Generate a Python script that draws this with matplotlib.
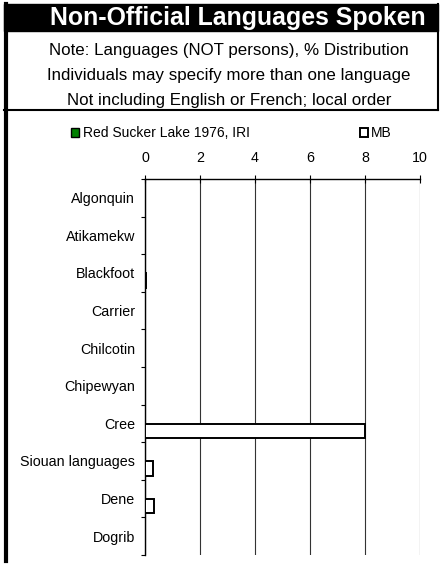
import matplotlib
matplotlib.use('Agg')
import matplotlib.pyplot as plt
from matplotlib.patches import Rectangle, Patch
from matplotlib.lines import Line2D
import numpy as np

plt.rcParams['font.family'] = ['Liberation Sans', 'DejaVu Sans']

languages = ['Algonquin', 'Atikamekw', 'Blackfoot', 'Carrier', 'Chilcotin',
             'Chipewyan', 'Cree', 'Siouan languages', 'Dene', 'Dogrib']
red_sucker = [0, 0, 0, 0, 0, 0, 0, 0, 0, 0]
mb = [0, 0, 0.05, 0, 0, 0, 8.0, 0.28, 0.33, 0]
series_names = ['Red Sucker Lake 1976, IRI', 'MB']
x_ticks = [0, 2, 4, 6, 8, 10]

W, H = 442, 565
fig = plt.figure(figsize=(W / 100, H / 100), dpi=100)

def fx(px):
    return px / W

def fy(px):
    return 1 - px / H

# frame: title bar, note box, left border
fig.patches.append(Rectangle((fx(4), fy(31)), fx(434), fy(4) - fy(31),
                             transform=fig.transFigure, color='black', zorder=0))
fig.lines.append(Line2D([fx(5.5), fx(5.5)], [fy(4), fy(561)], transform=fig.transFigure,
                        color='black', lw=3))
fig.lines.append(Line2D([fx(437.5), fx(437.5)], [fy(4), fy(110)], transform=fig.transFigure,
                        color='black', lw=1.5))
fig.lines.append(Line2D([fx(4), fx(438)], [fy(110), fy(110)], transform=fig.transFigure,
                        color='black', lw=1.5))

fig.text(fx(237.5), fy(17.5), 'Non-Official Languages Spoken', color='white',
         fontsize=17.9, fontweight='bold', ha='center', va='center')
notes = ['Note: Languages (NOT persons), % Distribution',
         'Individuals may specify more than one language',
         'Not including English or French; local order']
for i, line in enumerate(notes):
    fig.text(fx(229), fy(50 + i * 25.5), line, fontsize=12.2, ha='center', va='center')

ax = fig.add_axes([fx(145), fy(555), fx(275), fy(179) - fy(555)])

y = np.arange(len(languages))
h = 0.38
ax.barh(y - 0.2, red_sucker, height=h, color='#008000', edgecolor='black', linewidth=1.1, zorder=3)
ax.barh(y + 0.2, mb, height=h, color='white', edgecolor='black', linewidth=1.4, zorder=3)

ax.set_xlim(0, 10)
ax.set_ylim(len(languages) - 0.5, -0.5)
ax.set_xticks(x_ticks)
ax.set_xticklabels([str(t) for t in x_ticks])
ax.xaxis.tick_top()
ax.tick_params(axis='x', direction='inout', length=5.8, width=0.8, pad=7, labelsize=10.3)
ax.set_yticks(y)
ax.set_yticklabels(languages)
ax.set_yticks(np.arange(len(languages) + 1) - 0.5, minor=True)
ax.tick_params(axis='y', which='major', length=0, pad=7.2, labelsize=10.3)
ax.tick_params(axis='y', which='minor', direction='out', length=3, width=0.8)

for s in ['right', 'bottom']:
    ax.spines[s].set_visible(False)
for s in ['left', 'top']:
    ax.spines[s].set_linewidth(1)
ax.grid(axis='x', color='#333333', linewidth=0.8, zorder=0)
ax.set_axisbelow(True)

handles = [Patch(facecolor='#008000', edgecolor='black', linewidth=1),
           Patch(facecolor='white', edgecolor='black', linewidth=1.4)]
fig.legend(handles, series_names, loc='center left', bbox_to_anchor=(fx(71), fy(133)),
           ncol=2, frameon=False, fontsize=10, borderpad=0, borderaxespad=0,
           handlelength=0.6, handleheight=0.6, handletextpad=0.25, columnspacing=7.9)

fig.savefig('out.png', dpi=100)
